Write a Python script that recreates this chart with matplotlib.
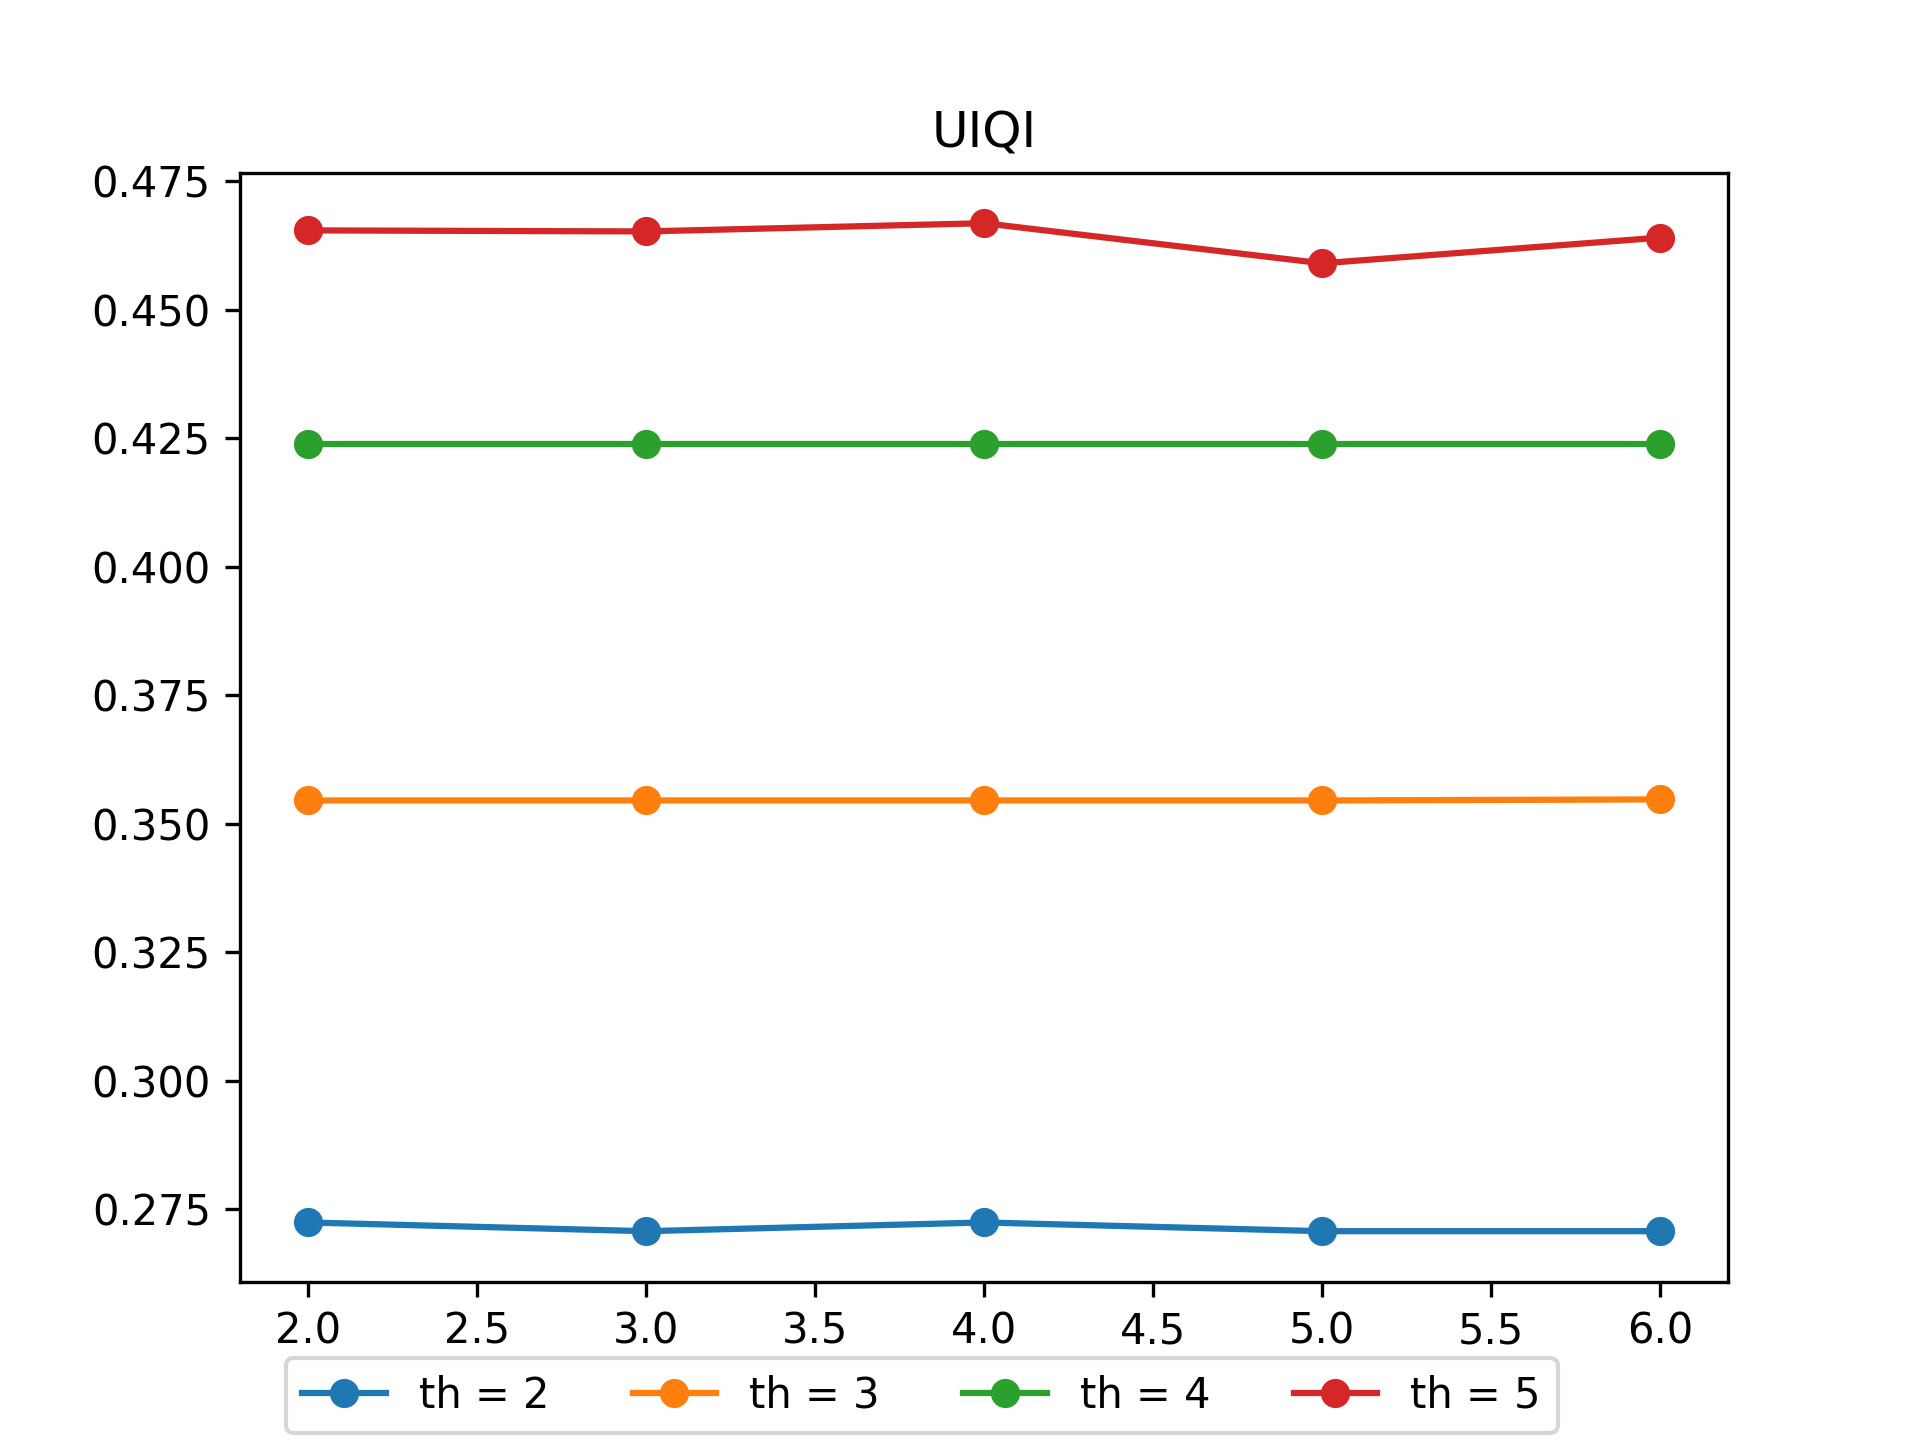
import matplotlib
matplotlib.use('Agg')
import matplotlib.pyplot as plt

x = [2, 3, 4, 5, 6]
th_2 = [0.2724, 0.2707, 0.2724, 0.2707, 0.2707]
th_3 = [0.3545, 0.3545, 0.3545, 0.3545, 0.3547]
th_4 = [0.4239, 0.4239, 0.4239, 0.4239, 0.4239]
th_5 = [0.4654, 0.4652, 0.4668, 0.4590, 0.4640]
labels = ['th = 2', 'th = 3', 'th = 4', 'th = 5']

fig, ax = plt.subplots(figsize=(6.4, 4.8), dpi=300)
for ys, lab in zip([th_2, th_3, th_4, th_5], labels):
    ax.plot(x, ys, marker='o', label=lab)
ax.set_title('UIQI')
ax.legend(loc='upper center', bbox_to_anchor=(0.458, -0.05), ncol=4)
fig.savefig('out.png')
